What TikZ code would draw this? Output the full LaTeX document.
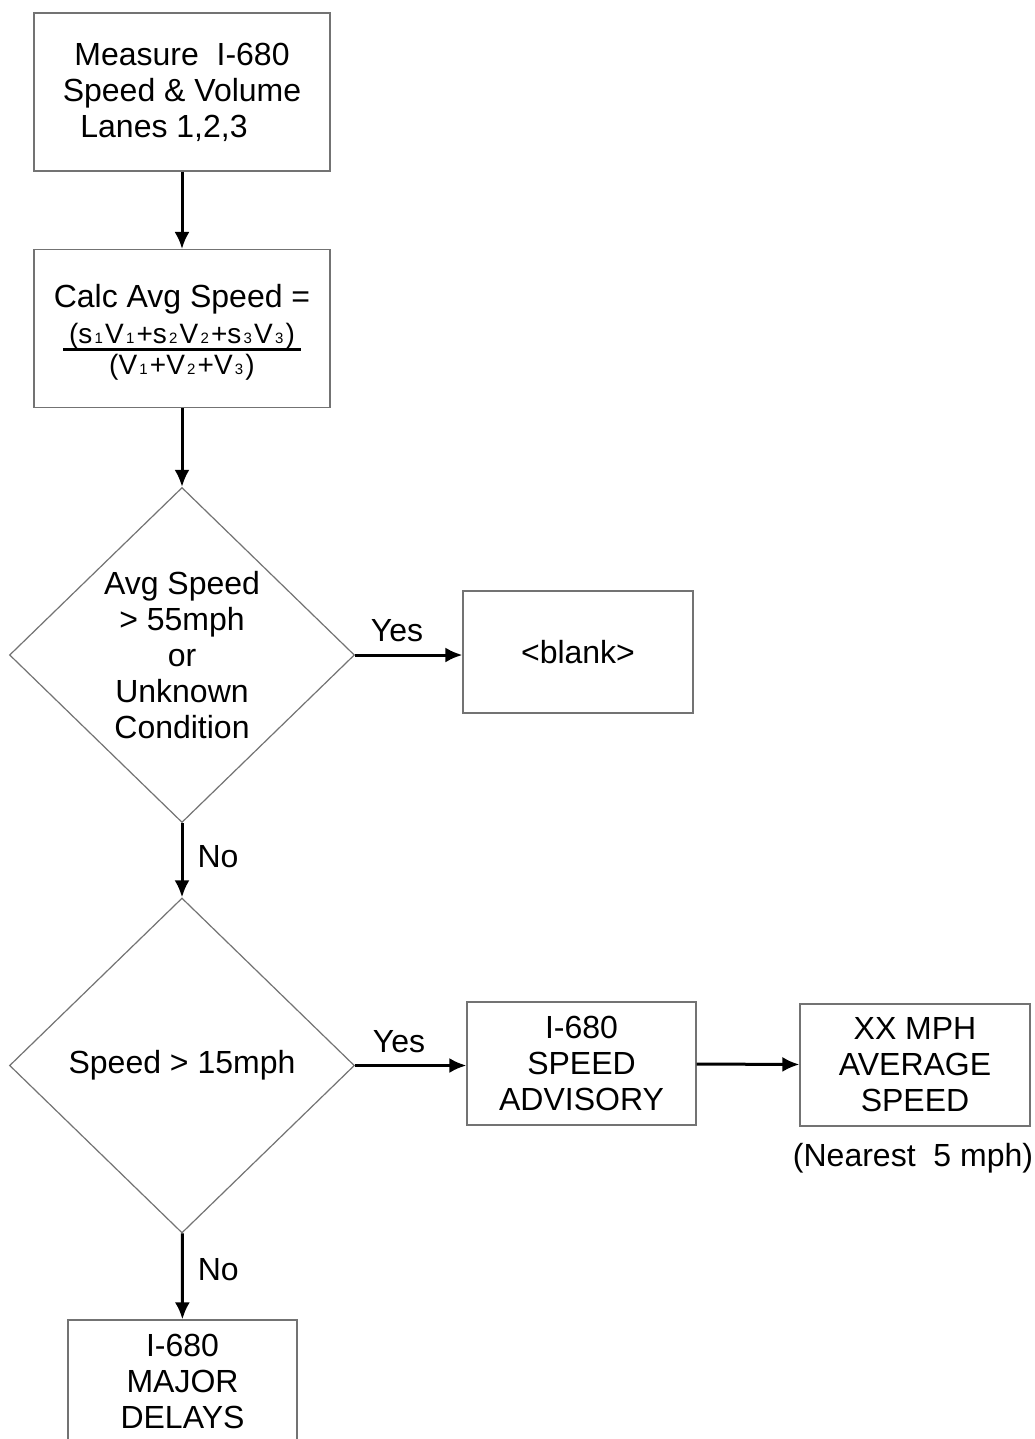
\documentclass[tikz,border=0pt]{standalone}
\usepackage{fontspec}
\setmainfont{Liberation Sans}
\usetikzlibrary{shapes.geometric,arrows.meta}
\newcommand\sbs[1]{\hspace{1.1pt}{\fontsize{7.5}{8}\selectfont #1}\hspace{1.1pt}}
\begin{document}
\begin{tikzpicture}[x=0.5pt,y=-0.5pt,
 every node/.style={font=\fontsize{16}{18}\selectfont},
 box/.style={draw=black!55, line width=0.6pt, rectangle, align=center, inner sep=0pt},
 dia/.style={draw=black!55, line width=0.6pt, diamond, align=center, inner sep=0pt,
   minimum width=172.5pt, minimum height=167.5pt},
 arr/.style={line width=1.5pt, -{Latex[length=8.5pt,width=7.5pt]}},
 lab/.style={inner sep=0pt}]
\useasboundingbox (0,0) rectangle (1034,1439);
\fill[white] (0,0) rectangle (1034,1439);

\node[box, minimum width=148pt, minimum height=79pt] (m1) at (182,92)
  {Measure\ \ I-680\\Speed \& Volume\\Lanes 1,2,3\hspace*{18pt}};

\node[box, minimum width=148pt, minimum height=79pt, anchor=north] (m2) at (182,249)
  {\rule{0pt}{21pt}Calc Avg Speed =\\
   {\fontsize{14}{15}\selectfont\setlength\arrayrulewidth{1.5pt}%
    \renewcommand\arraystretch{0.8}%
    \begin{tabular}[t]{@{\hspace{3pt}}c@{\hspace{3pt}}}
    (s\sbs{1}V\sbs{1}+s\sbs{2}V\sbs{2}+s\sbs{3}V\sbs{3})\\[-1.6pt]\hline
    \rule{0pt}{12pt}(V\sbs{1}+V\sbs{2}+V\sbs{3})
    \end{tabular}}\rule[-24pt]{0pt}{1pt}};

\node[dia] (d1) at (182,655)
  {Avg Speed\\> 55mph\\or\\Unknown\\Condition};

\node[box, minimum width=115pt, minimum height=61pt] (blank) at (578,652) {<blank>};

\node[dia] (d2) at (182,1065.5) {Speed > 15mph};

\node[box, minimum width=114.5pt, minimum height=61.5pt] (adv) at (581.5,1063.5)
  {I-680\\SPEED\\ADVISORY};

\node[box, minimum width=115pt, minimum height=61pt] (xx) at (915,1065)
  {XX MPH\\AVERAGE\\SPEED};

\node[lab] (near) at (913,1158) {(Nearest\ \ 5 mph)};

\node[box, minimum width=114.5pt, minimum height=61pt] (maj) at (182.5,1381)
  {I-680\\MAJOR\\DELAYS};

\draw[arr] (m1) -- (m2);
\draw[arr] (m2) -- (d1);
\draw[arr] (d1.east) -- (d1.east -| blank.west);
\draw[arr] (d1) -- node[lab, right=7pt, pos=0.45] (no1) {No} (d2);
\draw[arr] (d2.east) -- (d2.east -| adv.west);
\draw[arr] (adv) -- (xx);
\draw[arr] (d2) -- node[lab, right=7pt, pos=0.42] (no2) {No} (maj);

\node[lab] (yes1) at (397,631) {Yes};
\node[lab] (yes2) at (399,1042) {Yes};
\end{tikzpicture}
\end{document}
